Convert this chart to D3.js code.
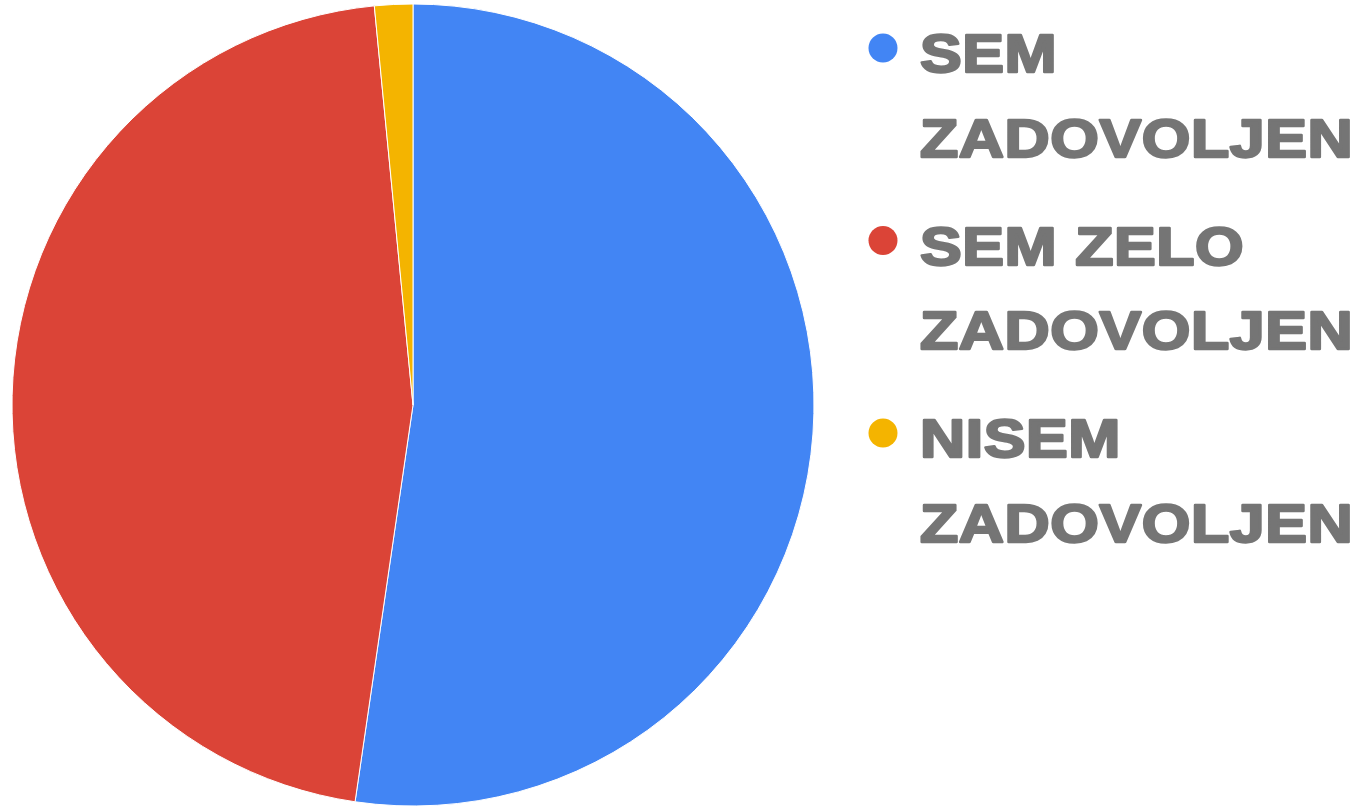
<html>
<head>
<meta charset="utf-8">
<script src="https://d3js.org/d3.v7.min.js"></script>
<style>
  body { margin: 0; padding: 0; background: #fff; }
  .legend text {
    font-family: "Liberation Sans", Arial, sans-serif;
    font-weight: bold;
    font-size: 53px;
    letter-spacing: 0.5px;
    fill: #757575;
    stroke: #757575;
    stroke-width: 2.4px;
    stroke-linejoin: round;
  }
</style>
</head>
<body>
<script>
  // answers (counts)
  var labels = [["SEM", "ZADOVOLJEN"], ["SEM ZELO", "ZADOVOLJEN"], ["NISEM", "ZADOVOLJEN"]];
  var values = [34, 30, 1];
  var colors = ["#4285f4", "#db4437", "#f4b400"];

  var w = 1361, h = 806;
  var svg = d3.select("body").append("svg")
      .attr("width", w)
      .attr("height", h);

  var pie = d3.pie().sort(null).value(function(d) { return d; });
  var arc = d3.arc().innerRadius(0).outerRadius(401);

  var g = svg.append("g").attr("transform", "translate(413,405)");
  g.selectAll("path")
    .data(pie(values))
    .enter().append("path")
      .attr("d", arc)
      .attr("fill", function(d, i) { return colors[i]; })
      .attr("stroke", "#fff")
      .attr("stroke-width", 1);

  // legend
  var lg = svg.append("g").attr("class", "legend");
  var item = lg.selectAll("g.item")
    .data(labels)
    .enter().append("g")
      .attr("class", "item")
      .attr("transform", function(d, i) { return "translate(883," + (48 + i * 192.5) + ")"; });

  item.append("circle")
      .attr("r", 14.5)
      .attr("fill", function(d, i) { return colors[i]; });

  // the font in the picture is wider than Liberation Sans, so stretch it a bit
  item.append("text")
      .attr("transform", "translate(37,0) scale(1.18,1)")
      .attr("y", 24)
      .selectAll("tspan")
      .data(function(d) { return d; })
      .enter().append("tspan")
        .attr("x", 0)
        .attr("dy", function(d, i) { return i ? 85 : 0; })
        .text(function(d) { return d; });
</script>
</body>
</html>
